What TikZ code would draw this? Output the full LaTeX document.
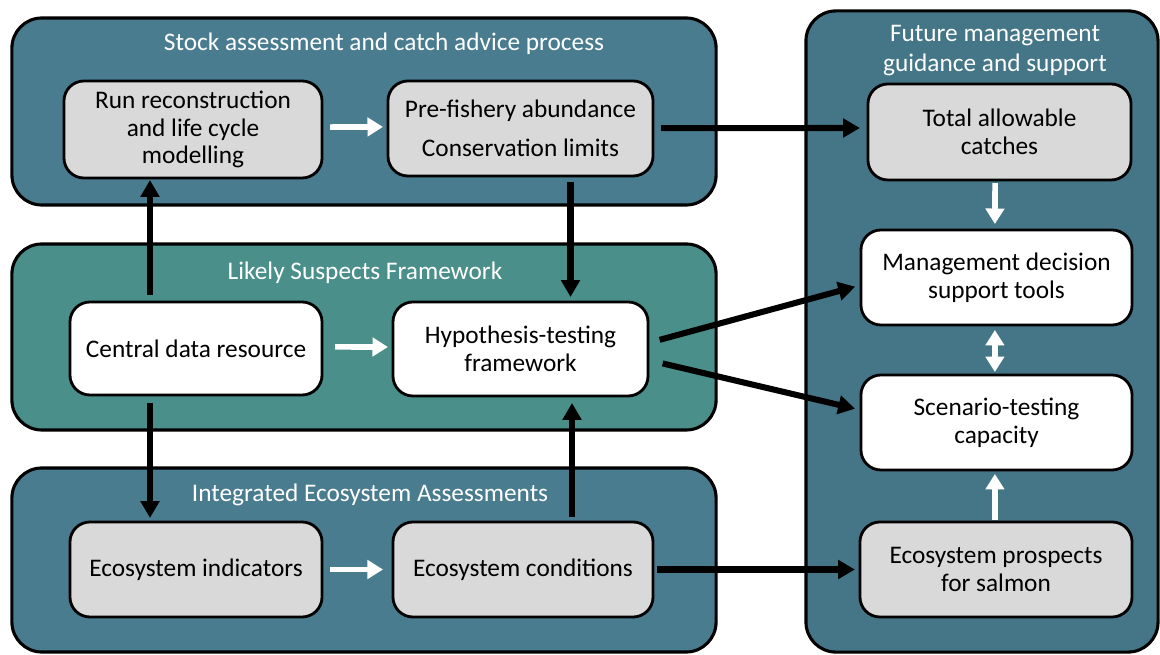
\documentclass[tikz,border=0pt]{standalone}
\usepackage{fontspec}
\setmainfont{Carlito}
\usetikzlibrary{arrows.meta,calc}
\definecolor{stockc}{RGB}{74,124,143}
\definecolor{lsfc}{RGB}{74,143,138}
\definecolor{futc}{RGB}{68,118,135}
\definecolor{boxgray}{RGB}{217,217,217}
\tikzset{
  container/.style={draw=black,line width=2.2pt,rounded corners=0.75cm,minimum width=#1,inner sep=0pt,outer sep=0pt},
  gbox/.style={draw=black,line width=2pt,rounded corners=0.5cm,fill=boxgray,align=center,inner sep=0pt,outer sep=0pt,font=\fontsize{18}{19.8}\selectfont},
  wbox/.style={gbox,fill=white},
  ttl/.style={text=white,align=center,font=\fontsize{18}{21.5}\selectfont},
  blk/.style={line width=4.3pt,-{Triangle[length=12pt,width=13pt]}},
  wht/.style={white,line width=4pt,-{Triangle[length=11pt,width=13pt]}},
  whtd/.style={white,line width=4pt,{Triangle[length=11pt,width=13pt]}-{Triangle[length=11pt,width=13pt]}},
}
\begin{document}
\begin{tikzpicture}[x=0.025cm,y=-0.025cm]
\useasboundingbox (0,0) rectangle (1160,655);
% containers
\node[container=17.6cm,minimum height=4.675cm,fill=stockc] (stock) at (364,111.5) {};
\node[container=17.6cm,minimum height=4.65cm,fill=lsfc] (lsf) at (364,337) {};
\node[container=17.6cm,minimum height=4.6cm,fill=stockc] (iea) at (364,560) {};
\node[container=8.8cm,minimum height=16.025cm,fill=futc] (fut) at (982,331.5) {};
% titles
\node[ttl] (tstock) at (384,44) {Stock assessment and catch advice process};
\node[ttl] (tlsf) at (365,273) {Likely Suspects Framework};
\node[ttl] (tiea) at (370,495) {Integrated Ecosystem Assessments};
\node[ttl] (tfut) at (995,50.5) {Future management\\guidance and support};
% boxes
\node[gbox,minimum width=6.45cm,minimum height=2.425cm] (run) at (193,129.5) {Run reconstruction\\and life cycle\\modelling};
\node[gbox,minimum width=6.625cm,minimum height=2.375cm] (pre) at (520.5,128.5) {Pre-fishery abundance\\[8pt]Conservation limits};
\node[wbox,minimum width=6.3cm,minimum height=2.325cm] (cdr) at (196,348.5) {Central data resource};
\node[wbox,minimum width=6.375cm,minimum height=2.35cm] (hyp) at (520.5,349) {Hypothesis-testing\\framework};
\node[gbox,minimum width=6.3cm,minimum height=2.375cm] (ind) at (196,569.5) {Ecosystem indicators};
\node[gbox,minimum width=6.5cm,minimum height=2.375cm] (cond) at (523,569.5) {Ecosystem conditions};
\node[gbox,minimum width=6.575cm,minimum height=2.4cm] (tac) at (999.5,132) {Total allowable\\catches};
\node[wbox,minimum width=6.775cm,minimum height=2.375cm] (mdst) at (996.5,277.5) {Management decision\\support tools};
\node[wbox,minimum width=6.775cm,minimum height=2.375cm] (scen) at (996.5,422.5) {Scenario-testing\\capacity};
\node[gbox,minimum width=6.8cm,minimum height=2.375cm] (pros) at (996,569.5) {Ecosystem prospects\\for salmon};
% white arrows
\draw[wht,shorten <=0.2cm,shorten >=0.125cm] ([yshift=0.06cm]run.east) -- ([yshift=0.04cm]pre.west);
\draw[wht,shorten <=0.325cm,shorten >=0.125cm] ([yshift=0.04cm]cdr.east) -- ([yshift=0.05cm]hyp.west);
\draw[wht,shorten <=0.2cm,shorten >=0.25cm] (ind.east) -- (cond.west);
\draw[wht,shorten <=0.075cm,shorten >=0.15cm] ([xshift=-0.11cm]tac.south) -- ([xshift=-0.04cm]mdst.north);
\draw[whtd,shorten <=0.125cm,shorten >=0.075cm] ([xshift=-0.04cm]mdst.south) -- ([xshift=-0.04cm]scen.north);
\draw[wht,shorten <=0.05cm,shorten >=0.1cm] ([xshift=-0.025cm]pros.north) -- ([xshift=-0.04cm]scen.south);
% black arrows
\draw[blk,shorten <=0.175cm,shorten >=0.05cm] ([xshift=-1.15cm]cdr.north) -- ([xshift=-1.15cm]cdr.north |- run.south);
\draw[blk,shorten <=0.15cm,shorten >=0.125cm] ([xshift=1.25cm]pre.south) -- ([xshift=1.25cm]pre.south |- hyp.north);
\draw[blk,shorten <=0.2cm,shorten >=0.2cm] ([yshift=0.01cm]pre.east) -- ([yshift=0.1cm]tac.west);
\draw[blk,shorten <=0.3cm,shorten >=0.15cm] ([yshift=0.15cm]hyp.east) -- ([yshift=-0.19cm]mdst.west);
\draw[blk,shorten <=0.375cm,shorten >=0.15cm] ([yshift=-0.275cm]hyp.east) -- ([yshift=0.31cm]scen.west);
\draw[blk,shorten <=0.2cm,shorten >=0.1cm] ([xshift=-1.15cm]cdr.south) -- ([xshift=-1.15cm]cdr.south |- ind.north);
\draw[blk,shorten <=0.125cm,shorten >=0.175cm] ([xshift=1.225cm]cond.north) -- ([xshift=1.225cm]cond.north |- hyp.south);
\draw[blk,shorten <=0.1cm,shorten >=0.125cm] (cond.east) -- (pros.west);
\end{tikzpicture}
\end{document}
